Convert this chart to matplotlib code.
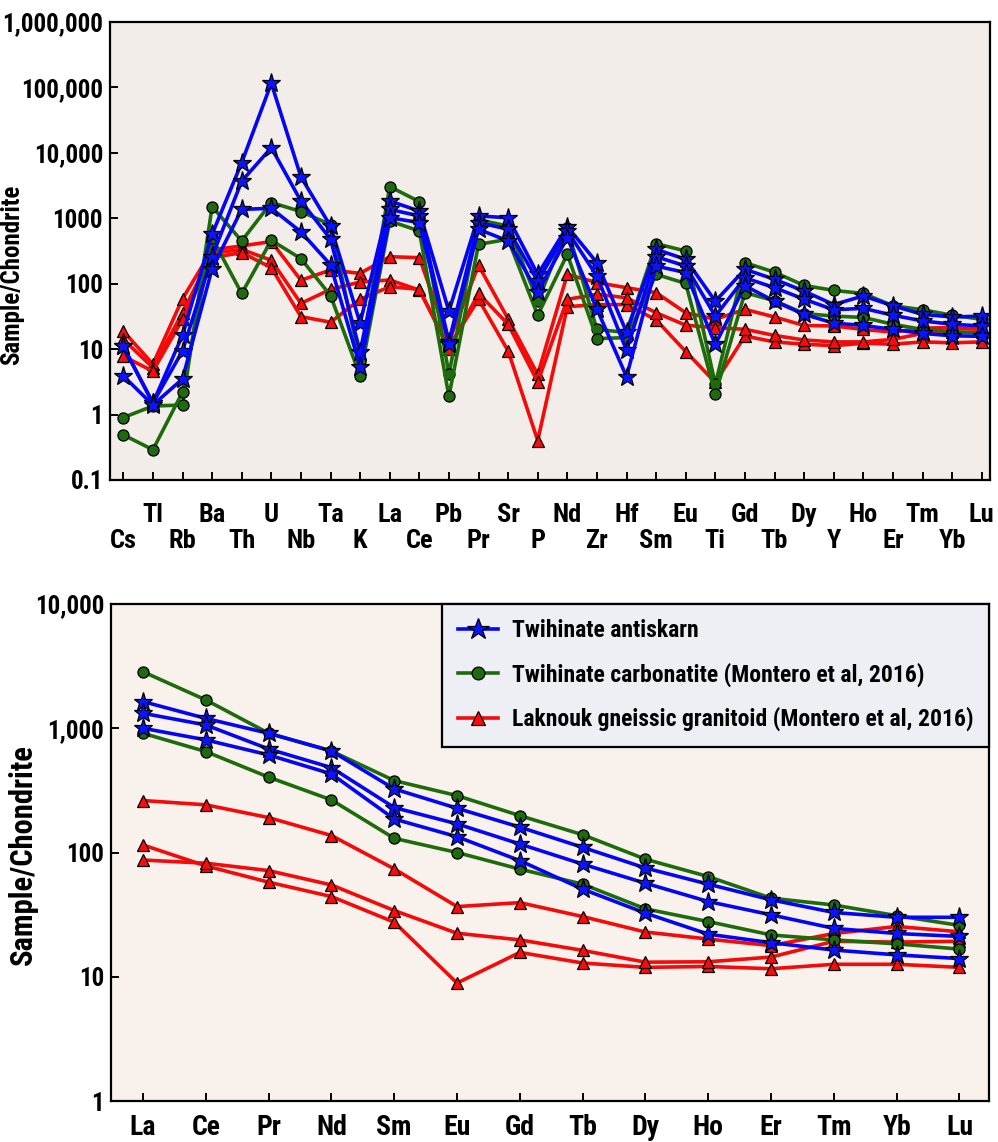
import matplotlib.pyplot as plt
from matplotlib.ticker import NullLocator

plt.rcParams['font.family'] = ['Roboto Condensed', 'Archivo Narrow', 'DejaVu Sans']
plt.rcParams['font.stretch'] = 'condensed'
plt.rcParams['font.weight'] = 'bold'

# element order for the multi-element spider diagram
spider_elements = ['Cs', 'Tl', 'Rb', 'Ba', 'Th', 'U', 'Nb', 'Ta', 'K', 'La', 'Ce', 'Pb', 'Pr', 'Sr', 'P',
                   'Nd', 'Zr', 'Hf', 'Sm', 'Eu', 'Ti', 'Gd', 'Tb', 'Dy', 'Y', 'Ho', 'Er', 'Tm', 'Yb', 'Lu']

# chondrite-normalised values, multi-element plot
antiskarn_spider = [
    [11, 1.5, 16.3, 570, 7100, 116000, 4300, 760, 25, 1840, 1290, 38, 1085, 1020, 139, 746, 210, 18.2,
     335, 236, 54, 166, 117, 77, 48, 65, 46, 34, 31, 32],
    [11, 1.5, 9.4, 260, 3700, 12000, 1840, 480, 9.1, 1370, 1085, 13, 860, 680, 110, 640, 131, 9.6,
     259, 186, 32, 123, 87, 58, 40, 42, 33, 27, 24, 22.6],
    [3.9, 1.4, 3.5, 170, 1370, 1420, 620, 195, 5.4, 1020, 860, 12, 680, 450, 75, 507, 41, 3.8,
     186, 148, 11.8, 93, 54, 34, 25, 23, 20, 17.4, 16, 15.7],
]
carbonatite_spider = [
    [0.9, 1.35, 1.4, 1510, 450, 1740, 1270, 800, 6.5, 3050, 1800, 4.1, 950, 760, 54, 700, 20, 18,
     410, 316, 2.9, 210, 150, 94, 79, 71, 46, 40, 33, 28.6],
    [0.49, 0.29, 2.2, 500, 71, 461, 242, 66, 3.9, 910, 640, 1.9, 400, 478, 33, 282, 14.5, 15,
     139, 101, 2.04, 73, 55, 35, 32, 30.5, 24, 20, 18.5, 17.4],
]
granitoid_spider = [
    [18.9, 5.9, 59, 330, 378, 441, 113, 162, 144, 259, 250, 13, 191, 29, 4.1, 139, 104, 87,
     73, 36, 28.6, 40.6, 31, 23, 22.6, 20, 18.2, 21, 21.3, 20.1],
    [14.1, 5.2, 36, 290, 335, 228, 50, 82, 106, 114, 80, 11, 57.7, 9.4, 0.40, 44.5, 48, 48,
     28, 9.2, 3.1, 15.9, 12.9, 11.9, 11.3, 12.3, 11.9, 12.9, 12.5, 12.9],
    [7.8, 4.6, 28.6, 250, 299, 176, 31.4, 25.8, 57.7, 90, 82, 10, 71, 24, 3.15, 57.7, 69, 61,
     36, 23.2, 21.3, 20.1, 16.2, 13.8, 12.9, 12.9, 14.1, 17.4, 18.2, 18.2],
]

# rare earth elements
ree_elements = ['La', 'Ce', 'Pr', 'Nd', 'Sm', 'Eu', 'Gd', 'Tb', 'Dy', 'Ho', 'Er', 'Tm', 'Yb', 'Lu']

antiskarn_ree = [
    [1640, 1200, 910, 656, 325, 227, 160, 110, 75, 55.6, 41.6, 32.9, 30.1, 30.1],
    [1320, 1063, 681, 482, 230, 170, 117, 80.6, 56.6, 40.3, 31.5, 24.5, 22.3, 21.1],
    [1000, 806, 610, 429, 186, 134, 86, 50.7, 32.5, 22, 18.8, 16.4, 15.0, 14.0],
]
carbonatite_ree = [
    [2850, 1690, 912, 656, 379, 287, 198, 139, 88.3, 64, 42.9, 37.8, 31, 25.9],
    [911, 649, 404, 265, 130, 100, 73.5, 55.6, 35.2, 27.8, 21.7, 19.8, 18.4, 16.7],
]
granitoid_ree = [
    [262, 242, 191, 137, 73.8, 36.7, 39.5, 30.5, 22.9, 20.1, 17.8, 22.3, 25.4, 23.0],
    [115, 78, 57.7, 44.2, 27.5, 8.9, 15.7, 12.9, 11.9, 12.1, 11.6, 12.6, 12.6, 11.9],
    [87, 82, 71.5, 54.8, 34.1, 22.4, 19.8, 16.3, 13.1, 13.2, 14.4, 19.3, 19.0, 19.3],
]

labels = ['Twihinate antiskarn',
          'Twihinate carbonatite (Montero et al, 2016)',
          'Laknouk gneissic granitoid (Montero et al, 2016)']

styles = {
    'antiskarn': dict(color='#0505F5', marker='*', markersize=14, markerfacecolor='#0A14FF'),
    'carbonatite': dict(color='#1E6B0C', marker='o', markersize=8, markerfacecolor='#1F6A10'),
    'granitoid': dict(color='#F50A0A', marker='^', markersize=9, markerfacecolor='#FF0A0A'),
}


def draw_group(ax, rows, style, label):
    x = range(len(rows[0]))
    for i, row in enumerate(rows):
        ax.plot(x, row, lw=2.6, markeredgecolor='black', markeredgewidth=0.9,
                label=label if i == 0 else None, **style)


def style_axes(ax, face):
    ax.set_facecolor(face)
    ax.set_yscale('log')
    ax.yaxis.set_minor_locator(NullLocator())
    for sp in ax.spines.values():
        sp.set_linewidth(1.6)
    ax.tick_params(direction='in', length=6, width=1.4, labelsize=18, pad=5)


fig = plt.figure(figsize=(9.98, 11.42), dpi=100)

# --- multi-element diagram ---
ax1 = fig.add_axes([0.1102, 0.5797, 0.8818, 0.401])
style_axes(ax1, '#F2EDE9')
draw_group(ax1, granitoid_spider, styles['granitoid'], labels[2])
draw_group(ax1, carbonatite_spider, styles['carbonatite'], labels[1])
draw_group(ax1, antiskarn_spider, styles['antiskarn'], labels[0])
ax1.set_xlim(-0.45, 29.28)
ax1.set_ylim(0.1, 1e6)
ax1.set_yticks([0.1, 1, 10, 100, 1000, 1e4, 1e5, 1e6])
ax1.set_yticklabels(['0.1', '1', '10', '100', '1000', '10,000', '100,000', '1,000,000'])
ax1.set_xticks(range(len(spider_elements)))
ax1.set_xticklabels([])
for i, el in enumerate(spider_elements):
    off = -25 if i % 2 else -44
    ax1.annotate(el, xy=(i, 0), xycoords=('data', 'axes fraction'), xytext=(0, off),
                 textcoords='offset points', ha='center', va='center', fontsize=19, fontweight='bold')
ax1.set_ylabel('Sample/Chondrite', fontsize=18, fontweight='bold')
ax1.yaxis.set_label_coords(-0.097, 0.448)

# --- REE diagram ---
ax2 = fig.add_axes([0.1112, 0.0359, 0.8798, 0.4352])
style_axes(ax2, '#F8F1EC')
draw_group(ax2, granitoid_ree, styles['granitoid'], labels[2])
draw_group(ax2, carbonatite_ree, styles['carbonatite'], labels[1])
draw_group(ax2, antiskarn_ree, styles['antiskarn'], labels[0])
ax2.set_xlim(-0.51, 13.47)
ax2.set_ylim(1, 1e4)
ax2.set_yticks([1, 10, 100, 1000, 1e4])
ax2.set_yticklabels(['1', '10', '100', '1,000', '10,000'])
ax2.set_xticks(range(len(ree_elements)))
ax2.set_xticklabels(ree_elements, fontsize=20, fontweight='bold')
ax2.tick_params(axis='x', pad=9)
ax2.set_ylabel('Sample/Chondrite', fontsize=22, fontweight='bold')
ax2.yaxis.set_label_coords(-0.083, 0.495)

handles, lbls = ax2.get_legend_handles_labels()
order = [2, 1, 0]
leg = ax2.legend([handles[i] for i in order], [lbls[i] for i in order], loc='upper right',
                 borderaxespad=0, fontsize=17, frameon=True, fancybox=False,
                 facecolor='#EEEFF4', edgecolor='black', framealpha=1,
                 handlelength=1.7, handletextpad=0.6, borderpad=0.65, labelspacing=0.85,
                 markerscale=1.15)
leg.get_frame().set_linewidth(1.6)

fig.savefig('out.png', dpi=100)
